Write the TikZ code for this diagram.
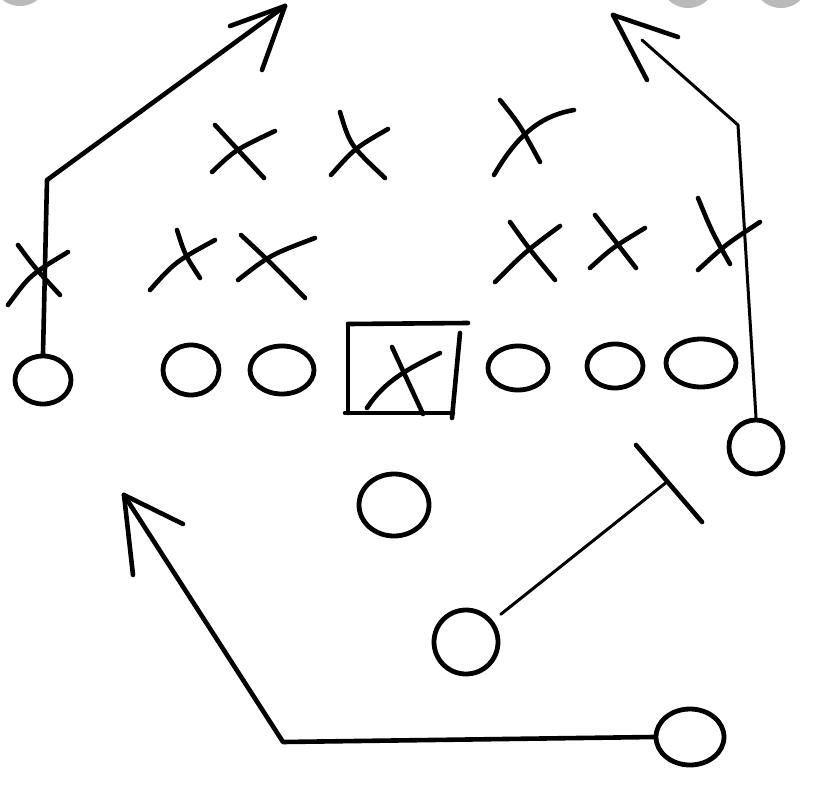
\documentclass[tikz,border=0pt]{standalone}
\usetikzlibrary{shapes.geometric}
\begin{document}
\begin{tikzpicture}[x=1pt,y=-1pt,
  ink/.style={line width=4.6pt,line cap=round,line join=round,black},
  thin ink/.style={line width=3pt,line cap=round,line join=round,black},
  oman/.style={draw=black,line width=4.8pt,ellipse,inner sep=0pt},
  grey arc/.style={fill=black!27,draw=none}]
\useasboundingbox (0,0) rectangle (825,800);
\fill[white] (0,0) rectangle (825,800);
% grey partial circles at the top edge
\begin{scope}
\clip (0,0) rectangle (825,800);
\fill[grey arc] (20,-22) circle (28);
\fill[grey arc] (688,-20) circle (28);
\fill[grey arc] (781,-20) circle (28);
\end{scope}
% offense O's
\node[oman,minimum width=56pt,minimum height=48pt] (oL) at (43,380) {};
\node[oman,minimum width=56pt,minimum height=50pt] (o1) at (191,370) {};
\node[oman,minimum width=64pt,minimum height=48pt] (o2) at (282,370) {};
\node[oman,minimum width=60pt,minimum height=44pt] (o3) at (518,368) {};
\node[oman,minimum width=56pt,minimum height=44pt] (o4) at (615,366) {};
\node[oman,minimum width=70pt,minimum height=48pt] (o5) at (701,363) {};
\node[oman,minimum width=54pt,minimum height=54pt] (oR) at (756,447) {};
\node[oman,minimum width=70pt,minimum height=62pt] (oQ) at (394,505) {};
\node[oman,minimum width=64pt,minimum height=64pt] (oT) at (466,642) {};
\node[oman,minimum width=68pt,minimum height=56pt] (oB) at (690,737) {};
% center box with X
\draw[ink] (348,324) -- (468,323);
\draw[ink] (348,324) -- (348,413);
\draw[ink] (345,413) -- (453,413);
\draw[ink] (460,333) -- (452,418);
\draw[ink] (392,347) -- (423,414);
\draw[ink] (367,408) .. controls (385,380) and (410,368) .. (440,353);
% defense X's, row 1
\draw[ink] (215,125) -- (264,178); \draw[ink] (212,172) .. controls (235,150) .. (275,131);
\draw[ink] (340,112) .. controls (350,145) .. (385,178); \draw[ink] (331,175) .. controls (355,148) .. (388,129);
\draw[ink] (500,100) .. controls (520,125) .. (540,162); \draw[ink] (494,175) .. controls (520,130) and (545,115) .. (574,110);
% defense X's, row 2
\draw[ink] (18,245) .. controls (35,268) .. (60,295); \draw[ink] (8,305) .. controls (30,275) .. (68,252);
\draw[ink] (177,230) .. controls (185,255) .. (200,278); \draw[ink] (150,290) .. controls (175,262) .. (215,240);
\draw[ink] (241,235) .. controls (270,262) .. (305,298); \draw[ink] (238,280) .. controls (270,255) .. (315,238);
\draw[ink] (510,222) .. controls (530,250) .. (555,280); \draw[ink] (495,282) .. controls (525,252) .. (560,226);
\draw[ink] (595,215) .. controls (615,242) .. (636,268); \draw[ink] (590,268) .. controls (612,248) .. (645,228);
\draw[ink] (698,198) .. controls (712,232) .. (730,264); \draw[ink] (698,270) .. controls (725,245) .. (760,222);
% left route
\coordinate (cL) at (47,180);
\coordinate (tL) at (285,6);
\draw[ink] (oL.north) -- (cL) -- (tL);
\draw[ink] (tL) -- (230,26);
\draw[ink] (tL) -- (262,70);
% right route
\coordinate (cR) at (738,125);
\coordinate (tR) at (613,15);
\draw[thin ink] (oR.north) -- (cR) -- (642,40);
\draw[ink] (tR) -- (678,37);
\draw[ink] (tR) -- (647,80);
% block route (T)
\coordinate (tT) at (668,481);
\draw[thin ink,shorten <=10pt] (oT) -- (tT);
\draw[ink] (636,445) -- (702,522);
% bottom route
\coordinate (cB) at (283,742);
\coordinate (tB) at (124,495);
\draw[ink] (oB.west) -- (cB) -- (tB);
\draw[ink] (tB) -- (183,524);
\draw[ink] (tB) -- (133,575);
\end{tikzpicture}
\end{document}
